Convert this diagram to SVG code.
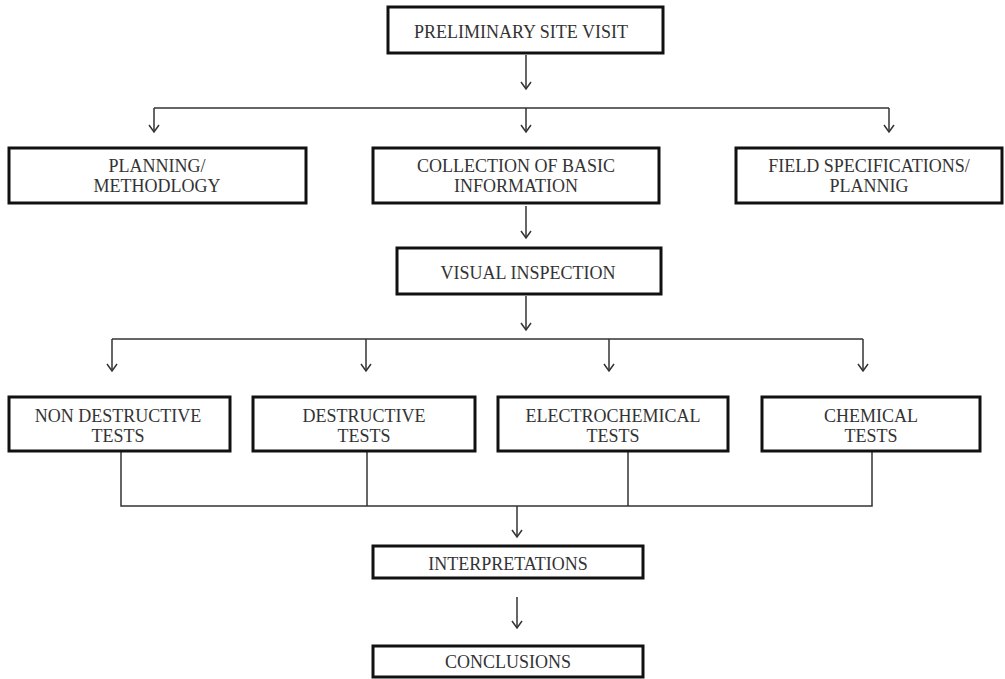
<svg xmlns="http://www.w3.org/2000/svg" width="1005" height="679" viewBox="0 0 1005 679">
<style>
.box{fill:#fff;stroke:#111;stroke-width:3}
.t{font-family:"Liberation Serif","Times New Roman",serif;font-size:18px;fill:#333;text-anchor:middle}
.c{fill:none;stroke:#333;stroke-width:1.5}
</style>
<defs>
<marker id="arr" viewBox="-8 -6 10 12" refX="0" refY="0" markerWidth="10" markerHeight="12" orient="auto" markerUnits="userSpaceOnUse">
<path d="M-7,-5 L0,0 L-7,5" fill="none" stroke="#333" stroke-width="1.5"/>
</marker>
</defs>
<rect width="1005" height="679" fill="#fff"/>
<g id="connectors">
<line class="c" x1="526" y1="55" x2="526" y2="89" marker-end="url(#arr)"/>
<line class="c" x1="154" y1="108" x2="889" y2="108"/>
<line class="c" x1="154" y1="108" x2="154" y2="132" marker-end="url(#arr)"/>
<line class="c" x1="526" y1="108" x2="526" y2="132" marker-end="url(#arr)"/>
<line class="c" x1="889" y1="108" x2="889" y2="132" marker-end="url(#arr)"/>
<line class="c" x1="526" y1="206" x2="526" y2="238" marker-end="url(#arr)"/>
<line class="c" x1="526" y1="296" x2="526" y2="330" marker-end="url(#arr)"/>
<line class="c" x1="112" y1="339" x2="863" y2="339"/>
<line class="c" x1="112" y1="339" x2="112" y2="371" marker-end="url(#arr)"/>
<line class="c" x1="366" y1="339" x2="366" y2="371" marker-end="url(#arr)"/>
<line class="c" x1="609" y1="339" x2="609" y2="371" marker-end="url(#arr)"/>
<line class="c" x1="863" y1="339" x2="863" y2="371" marker-end="url(#arr)"/>
<polyline class="c" points="121,451 121,506 872,506 872,451"/>
<line class="c" x1="367" y1="451" x2="367" y2="506"/>
<line class="c" x1="628" y1="451" x2="628" y2="506"/>
<line class="c" x1="517" y1="506" x2="517" y2="537" marker-end="url(#arr)"/>
<line class="c" x1="517" y1="597" x2="517" y2="628" marker-end="url(#arr)"/>
</g>
<g id="n-prelim"><rect class="box" x="388" y="7" width="275" height="46"/><text class="t" x="521" y="38">PRELIMINARY SITE VISIT</text></g>
<g id="n-planning"><rect class="box" x="9" y="148" width="297" height="55"/><text class="t" x="157" y="172">PLANNING/</text><text class="t" x="157" y="192">METHODLOGY</text></g>
<g id="n-collection"><rect class="box" x="373" y="148" width="286" height="55"/><text class="t" x="516" y="172">COLLECTION OF BASIC</text><text class="t" x="516" y="192">INFORMATION</text></g>
<g id="n-field"><rect class="box" x="736" y="148" width="266" height="55"/><text class="t" x="869" y="172">FIELD SPECIFICATIONS/</text><text class="t" x="869" y="192">PLANNIG</text></g>
<g id="n-visual"><rect class="box" x="397" y="248" width="264" height="46"/><text class="t" x="528" y="279">VISUAL INSPECTION</text></g>
<g id="n-nondestructive"><rect class="box" x="9" y="397" width="221" height="54"/><text class="t" x="118" y="422">NON DESTRUCTIVE</text><text class="t" x="118" y="442">TESTS</text></g>
<g id="n-destructive"><rect class="box" x="253" y="397" width="222" height="54"/><text class="t" x="364" y="422">DESTRUCTIVE</text><text class="t" x="364" y="442">TESTS</text></g>
<g id="n-electro"><rect class="box" x="498" y="397" width="230" height="54"/><text class="t" x="613" y="422">ELECTROCHEMICAL</text><text class="t" x="613" y="442">TESTS</text></g>
<g id="n-chemical"><rect class="box" x="762" y="397" width="218" height="54"/><text class="t" x="871" y="422">CHEMICAL</text><text class="t" x="871" y="442">TESTS</text></g>
<g id="n-interp"><rect class="box" x="373" y="546" width="270" height="32"/><text class="t" x="508" y="570">INTERPRETATIONS</text></g>
<g id="n-concl"><rect class="box" x="373" y="646" width="270" height="31"/><text class="t" x="508" y="668">CONCLUSIONS</text></g>
</svg>
